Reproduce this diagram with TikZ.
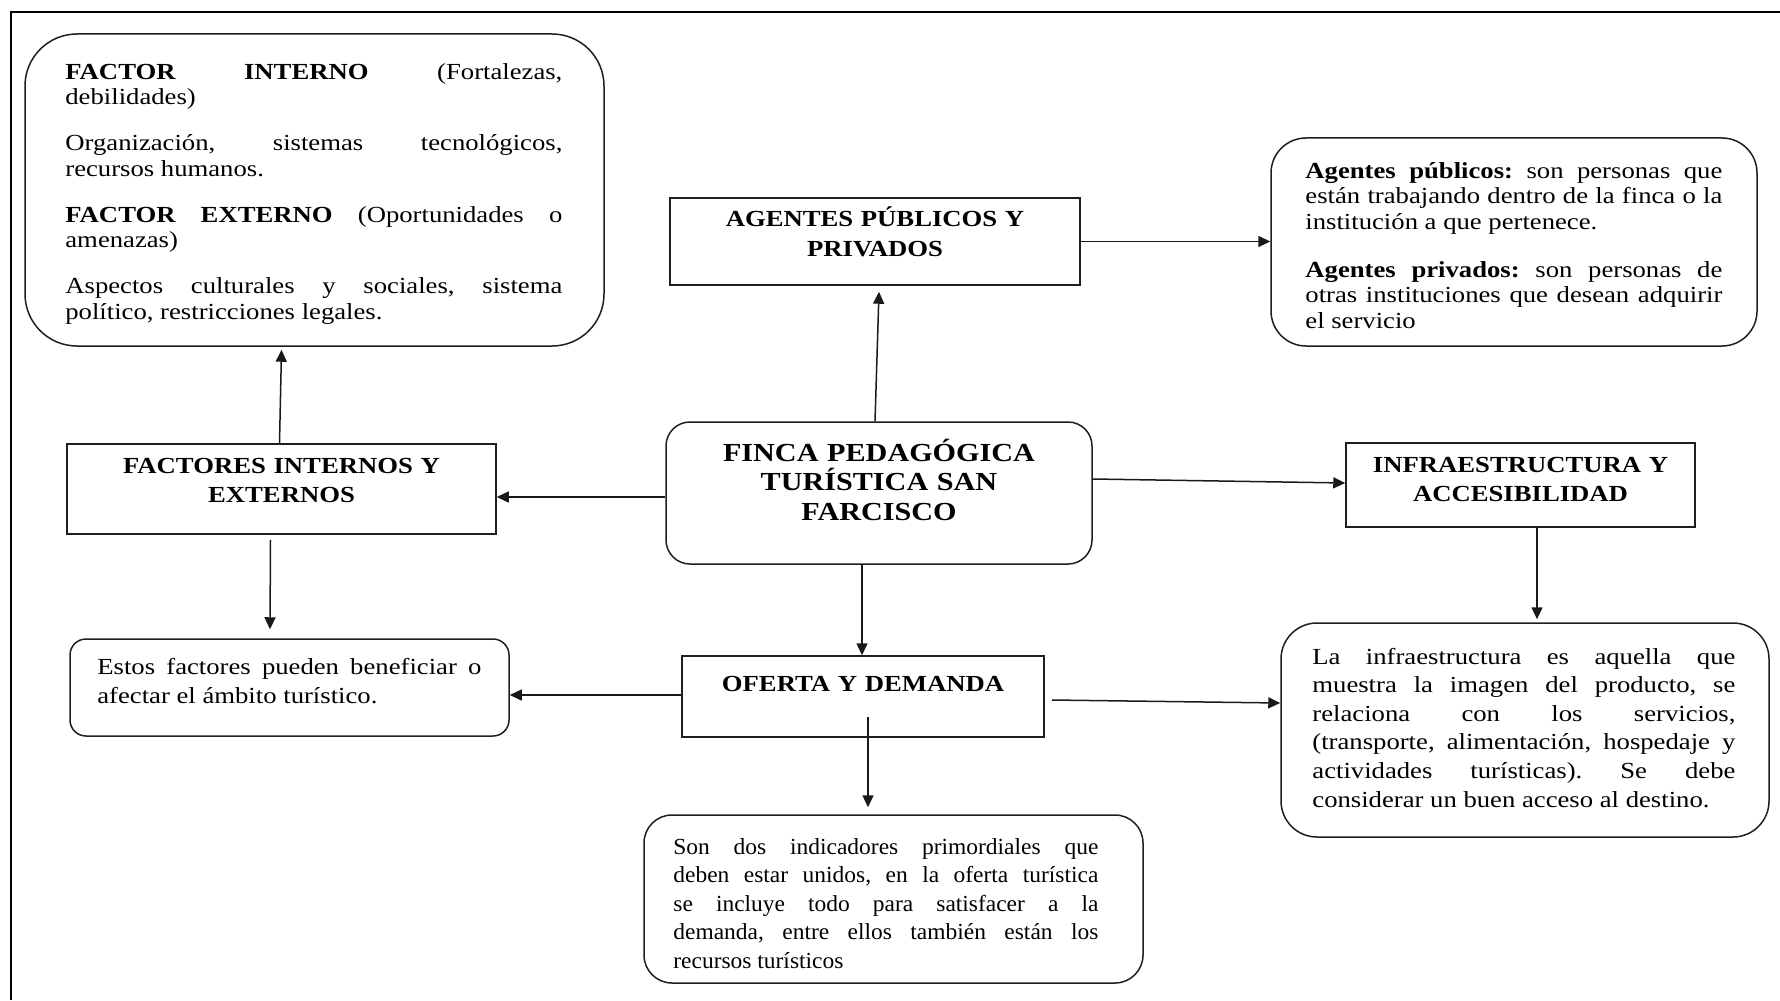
\documentclass[tikz,border=0pt]{standalone}
\usepackage{fontspec}
\setmainfont{Liberation Serif}[FakeStretch=1.16]
\newfontfamily\narrowserif{Liberation Serif}[FakeStretch=1.02]
\usetikzlibrary{arrows.meta,calc}
\newcommand\bodyset[1]{\fontsize{11.5pt}{#1}\selectfont\frenchspacing\tolerance=10000\hyphenpenalty=10000\exhyphenpenalty=10000\setlength{\parskip}{11pt}}
\newcommand\headset{\fontsize{11.5pt}{14.75pt}\selectfont\bfseries}
\newcommand\bigheadset{\fontsize{13pt}{14.8pt}\selectfont\bfseries}
\begin{document}
\begin{tikzpicture}[x=0.5pt,y=-0.5pt,
  boxline/.style={draw=black!88, line width=0.75pt},
  sqbox/.style={boxline, rectangle, inner sep=0pt},
  rndbox/.style={boxline, rectangle, inner sep=0pt, rounded corners=#1},
  bodytxt/.style={inner sep=0pt, align=justify, anchor=base west, text width=#1},
  headtxt/.style={inner sep=0pt, align=center, anchor=base, text width=#1, font=\headset},
  arr/.style={line width=0.75pt, draw=black!90, -{Triangle[length=6pt,width=5.5pt]}}]
\useasboundingbox (0,0) rectangle (1780,1000);
\fill[white] (0,0) rectangle (1780,1000);
% frame
\draw[line width=1pt] (11,1000) -- (11,12) -- (1780,12);

% boxes
\node[rndbox=26pt, minimum width=289.5pt, minimum height=156pt] (fi) at (314.5,190) {};
\node[sqbox, minimum width=205pt, minimum height=43.5pt] (ag) at (875,241.5) {};
\node[rndbox=17.5pt, minimum width=243pt, minimum height=104pt] (agt) at (1514,242) {};
\node[sqbox, minimum width=214.5pt, minimum height=45pt] (fac) at (281.5,489) {};
\node[rndbox=12pt, minimum width=213pt, minimum height=71pt] (finca) at (879,493) {};
\node[sqbox, minimum width=174.5pt, minimum height=42pt] (inf) at (1520.5,485) {};
\node[rndbox=8pt, minimum width=219.5pt, minimum height=48.5pt] (est) at (289.5,687.5) {};
\node[sqbox, minimum width=181pt, minimum height=40.5pt] (of) at (863,696.5) {};
\node[rndbox=18pt, minimum width=244pt, minimum height=107pt] (lai) at (1525,730) {};
\node[rndbox=14pt, minimum width=249.5pt, minimum height=84pt] (son) at (893.5,899) {};

% headings
\node[headtxt=205pt] (agT) at (875,227) {AGENTES PÚBLICOS Y\\PRIVADOS\par};
\node[headtxt=214.5pt] (facT) at (281.5,473) {FACTORES INTERNOS Y\\EXTERNOS\par};
\node[headtxt=174.5pt] (infT) at (1520.5,472) {INFRAESTRUCTURA Y\\ACCESIBILIDAD\par};
\node[headtxt=181pt] (ofT) at (863,691) {OFERTA Y DEMANDA\par};
\node[headtxt=213pt, font=\bigheadset] (fincaT) at (879,461) {FINCA PEDAGÓGICA\\TURÍSTICA SAN\\FARCISCO\par};

% body texts
\node[bodytxt=248.5pt, font=\bodyset{12.75pt}] (fiT) at (65,79.5) {%
\setlength{\parskip}{10.2pt}%
{\bfseries FACTOR INTERNO} (Fortalezas,\linebreak debilidades)\par
Organización, sistemas tecnológicos,\linebreak recursos humanos.\par
{\bfseries FACTOR EXTERNO} (Oportunidades o\linebreak amenazas)\par
Aspectos culturales y sociales, sistema\linebreak político, restricciones legales.\par};

\node[bodytxt=208.5pt, font=\bodyset{12.75pt}] (agtT) at (1305,178.5) {%
{\bfseries Agentes públicos:} son personas que\linebreak están trabajando dentro de la finca o la\linebreak institución a que pertenece.\par
{\bfseries Agentes privados:} son personas de\linebreak otras instituciones que desean adquirir\linebreak el servicio\par};

\node[bodytxt=192pt, font=\bodyset{14.3pt}] (estT) at (97,674.5) {%
Estos factores pueden beneficiar o\linebreak afectar el ámbito turístico.\par};

\node[bodytxt=211.5pt, font=\bodyset{14.3pt}] (laiT) at (1312,664) {%
La infraestructura es aquella que\linebreak muestra la imagen del producto, se\linebreak relaciona con los servicios,\linebreak (transporte, alimentación, hospedaje y\linebreak actividades turísticas). Se debe\linebreak considerar un buen acceso al destino.\par};

\node[bodytxt=212.5pt, font={\narrowserif\bodyset{14.3pt}}] (sonT) at (673,854) {%
Son dos indicadores primordiales que\linebreak deben estar unidos, en la oferta turística\linebreak se incluye todo para satisfacer a la\linebreak demanda, entre ellos también están los\linebreak recursos turísticos\par};

% connectors
\draw[arr] ($(finca.north)+(-4,0)$) -- ($(ag.south)+(4,6)$);
\draw[arr] (ag.east) -- (ag.east -| agt.west);
\draw[arr] ($(finca.west)+(0,4)$) -- ($(fac.east)+(0,8)$);
\draw[arr] ($(fac.north)+(-2,0)$) -- ($(fi.south)+(-33,3)$);
\draw[arr] ($(fac.south)+(-11,5)$) -- ($(est.north)+(-19.5,-9)$);
\draw[arr] ($(finca.east)+(0,-14)$) -- ($(inf.west)+(0,-2)$);
\draw[arr] ($(inf.south)+(16.5,0)$) -- ($(lai.north)+(12,-3)$);
\draw[arr] ($(finca.south)+(-17,0)$) -- ($(of.north)+(-1,0)$);
\draw[arr] ($(of.west)+(0,-1.5)$) -- ($(est.east)+(0,7.5)$);
\draw[arr] ($(of.east)+(7,3.5)$) -- ($(lai.west)+(0,-27)$);
\draw[arr] ($(of.center)+(5,20.5)$) -- ($(son.north)+(-25.5,-7)$);
\end{tikzpicture}
\end{document}
